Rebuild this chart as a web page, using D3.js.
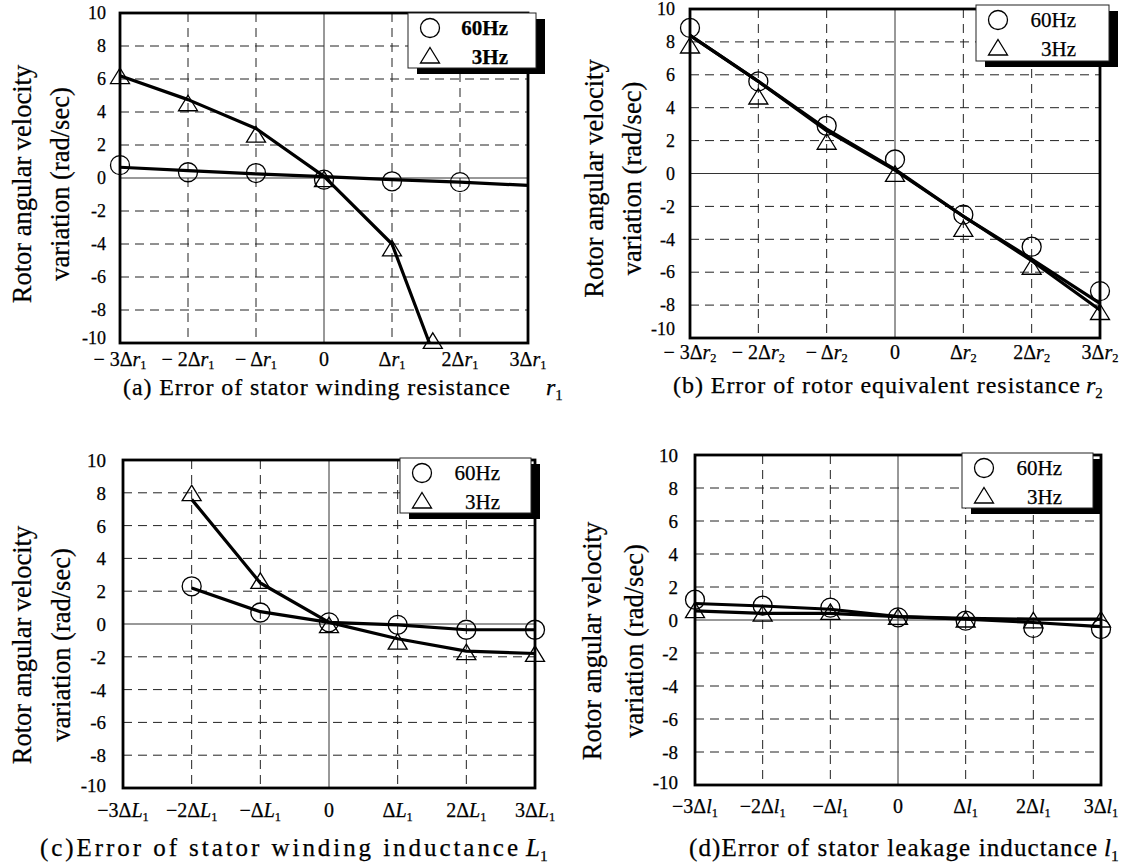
<!DOCTYPE html>
<html><head><meta charset="utf-8">
<script src="https://cdn.jsdelivr.net/npm/d3@7"></script>
<style>
body{margin:0;background:#fff}
svg text{font-family:"Liberation Serif","Times New Roman",serif;fill:#000;stroke:#000;stroke-width:0.25px}
</style>
</head><body>
<svg id="chart" width="1129" height="868"></svg>
<script>
// ---------- shared data ----------
const xTicks = [-3, -2, -1, 0, 1, 2, 3];
const yTicks = [-10, -8, -6, -4, -2, 0, 2, 4, 6, 8, 10];
const yTickLabels = ["-10", "-8", "-6", "-4", "-2", "0", "2", "4", "6", "8", "10"];
const xCoefSpaced = ["\u2212 3\u0394", "\u2212 2\u0394", "\u2212 \u0394", "0", "\u0394", "2\u0394", "3\u0394"];
const xCoefTight = ["\u22123\u0394", "\u22122\u0394", "\u2212\u0394", "0", "\u0394", "2\u0394", "3\u0394"];
const legendLabels = ["60Hz", "3Hz"];
const yLabelLines = ["Rotor angular velocity", "variation (rad/sec)"];

// ---------- (a) stator winding resistance r1 ----------
const aCaption = "(a) Error of stator winding resistance";
const aVar = "r", aSub = "1";
const a60X = [-3, -2, -1, 0, 1, 2];
const a60Y = [0.78, 0.35, 0.3, -0.1, -0.2, -0.25];
const a60LineX = [-3, -2, -1, 0, 1, 2, 3];
const a60LineY = [0.65, 0.45, 0.25, 0.08, -0.1, -0.25, -0.45];
const a3X = [-3, -2, -1, 0, 1, 1.6];
const a3Y = [6.15, 4.5, 2.6, -0.1, -4.3, -9.9];
const a3LineX = [-3, -2, -1, 0, 1, 1.55];
const a3LineY = [6.2, 4.75, 3.0, 0.1, -4.0, -10];

// ---------- (b) rotor equivalent resistance r2 ----------
const bCaption = "(b) Error of rotor equivalent resistance";
const bVar = "r", bSub = "2";
const b60X = [-3, -2, -1, 0, 1, 2, 3];
const b60Y = [8.85, 5.6, 2.9, 0.85, -2.5, -4.45, -7.15];
const b60LineX = [-3, -2, -1, 0, 1, 2, 3];
const b60LineY = [8.4, 5.6, 2.7, 0.25, -2.6, -5.2, -7.9];
const b3X = [-3, -2, -1, 0, 1, 2, 3];
const b3Y = [7.75, 4.65, 1.9, -0.05, -3.4, -5.7, -8.45];
const b3LineX = [-3, -2, -1, 0, 1, 2, 3];
const b3LineY = [8.4, 5.6, 2.6, 0.2, -2.6, -5.3, -8.3];

// ---------- (c) stator winding inductance L1 ----------
const cCaption = "(c)Error of stator winding inductance";
const cVar = "L", cSub = "1";
const c60X = [-2, -1, 0, 1, 2, 3];
const c60Y = [2.3, 0.7, 0.1, -0.05, -0.35, -0.35];
const c60LineX = [-2, -1, 0, 1, 2, 3];
const c60LineY = [2.2, 0.75, 0.1, -0.05, -0.35, -0.35];
const c3X = [-2, -1, 0, 1, 2, 3];
const c3Y = [7.95, 2.6, -0.1, -1.1, -1.75, -1.85];
const c3LineX = [-2, -1, 0, 1, 2, 3];
const c3LineY = [7.6, 2.5, 0.1, -0.9, -1.65, -1.8];

// ---------- (d) stator leakage inductance l1 ----------
const dCaption = "(d)Error of stator leakage inductance";
const dVar = "l", dSub = "1";
const d60X = [-3, -2, -1, 0, 1, 2, 3];
const d60Y = [1.23, 0.87, 0.75, 0.16, -0.04, -0.48, -0.55];
const d60LineX = [-3, -2, -1, 0, 1, 2, 3];
const d60LineY = [1.0, 0.85, 0.65, 0.2, 0.05, -0.15, -0.4];
const d3X = [-3, -2, -1, 0, 1, 2, 3];
const d3Y = [0.57, 0.36, 0.46, 0.16, 0.0, -0.05, 0.0];
const d3LineX = [-3, -2, -1, 0, 1, 2, 3];
const d3LineY = [0.55, 0.4, 0.4, 0.2, 0.1, 0.05, 0.05];

const zip = (xs, ys) => xs.map((x, i) => ({ x, y: ys[i] }));

// ---------- layout (positions only) ----------
const panels = [
  { x0: 120, x1: 528, y0: 13, y1: 343, coef: xCoefSpaced, v: aVar, s: aSub, cap: aCaption,
    capX: 123, capW: 387, capVarX: 546, capY: 395, capSize: 24,
    tickR: 106, tickSize: 18, tickDy: "0.3em", bottomDy: "0.05em", xlY: 366, xlSub: 3, xlSize: 20, ylb: [31, 69], ylOff: 6, legend: [408, 13, 128, 55], legBold: true,
    m60: zip(a60X, a60Y), l60: zip(a60LineX, a60LineY), m3: zip(a3X, a3Y), l3: zip(a3LineX, a3LineY) },
  { x0: 690, x1: 1100, y0: 9, y1: 338, coef: xCoefSpaced, v: bVar, s: bSub, cap: bCaption,
    capX: 673, capW: 407, capVarX: 1086, capY: 393, capSize: 24,
    tickR: 675, tickSize: 18, tickDy: "0.32em", bottomDy: "-0.2em", xlY: 359, xlSub: 3, xlSize: 20, ylb: [603, 641], ylOff: 5, legend: [976, 5, 133, 56], legBold: false,
    m60: zip(b60X, b60Y), l60: zip(b60LineX, b60LineY), m3: zip(b3X, b3Y), l3: zip(b3LineX, b3LineY) },
  { x0: 123, x1: 535, y0: 460, y1: 788, coef: xCoefTight, v: cVar, s: cSub, cap: cCaption,
    capX: 40, capW: 478, capVarX: 526, capY: 856, capSize: 25,
    tickR: 106, tickSize: 19, tickDy: "0.34em", bottomDy: "0.2em", xlY: 817, xlSub: 4, xlSize: 20, ylb: [31, 70], ylOff: 21, legend: [400, 458, 131, 55], legBold: false,
    m60: zip(c60X, c60Y), l60: zip(c60LineX, c60LineY), m3: zip(c3X, c3Y), l3: zip(c3LineX, c3LineY) },
  { x0: 695, x1: 1101, y0: 455, y1: 785, coef: xCoefTight, v: dVar, s: dSub, cap: dCaption,
    capX: 689, capW: 408, capVarX: 1104, capY: 856, capSize: 25,
    tickR: 678, tickSize: 19, tickDy: "0.34em", bottomDy: "0.2em", xlY: 813, xlSub: 4, xlSize: 20, ylb: [601, 643], ylOff: 21, legend: [962, 453, 131, 55], legBold: false,
    m60: zip(d60X, d60Y), l60: zip(d60LineX, d60LineY), m3: zip(d3X, d3Y), l3: zip(d3LineX, d3LineY) }
];

const svg = d3.select("#chart");
const triPath = "M0,-8.5L9.5,7L-9.5,7Z";

panels.forEach(p => {
  const x = d3.scaleLinear().domain([-3, 3]).range([p.x0, p.x1]);
  const y = d3.scaleLinear().domain([-10, 10]).range([p.y1, p.y0]);
  const g = svg.append("g");

  // grid
  const grid = g.append("g");
  grid.selectAll("line.h").data(yTicks.filter(t => t > -10 && t < 10)).join("line")
    .attr("x1", p.x0).attr("x2", p.x1).attr("y1", d => y(d)).attr("y2", d => y(d))
    .attr("stroke", d => d === 0 ? "#333" : "#222")
    .attr("stroke-width", 1)
    .attr("stroke-dasharray", d => d === 0 ? null : "9,6");
  grid.selectAll("line.v").data(xTicks.filter(t => t > -3 && t < 3)).join("line")
    .attr("y1", p.y0).attr("y2", p.y1).attr("x1", d => x(d)).attr("x2", d => x(d))
    .attr("stroke", d => d === 0 ? "#333" : "#222")
    .attr("stroke-width", 1)
    .attr("stroke-dasharray", d => d === 0 ? null : "9,6");

  // y axis tick labels
  const yAxis = d3.axisLeft(y).tickValues(yTicks).tickSize(0)
    .tickFormat((d, i) => yTickLabels[i]);
  const ya = g.append("g").attr("transform", `translate(${p.tickR},0)`).call(yAxis);
  ya.select(".domain").remove();
  ya.selectAll("text").attr("x", 0).attr("dy", d => d === -10 ? p.bottomDy : p.tickDy)
    .style("font-family", '"Liberation Serif","Times New Roman",serif')
    .style("font-size", p.tickSize + "px").attr("fill", "#000");

  // x tick labels
  const xl = g.append("g");
  xTicks.forEach((t, i) => {
    const tx = xl.append("text").attr("x", x(t)).attr("y", p.xlY)
      .attr("text-anchor", "middle").style("font-size", p.xlSize + "px");
    tx.append("tspan").text(p.coef[i]);
    if (t !== 0) {
      tx.append("tspan").attr("font-style", "italic").text(p.v);
      tx.append("tspan").attr("dy", p.xlSub).style("font-size", (p.xlSize * 0.62) + "px").text(p.s);
    }
  });

  // lines
  const line = d3.line().x(d => x(d.x)).y(d => y(d.y));
  g.append("path").datum(p.l60).attr("d", line).attr("fill", "none")
    .attr("stroke", "#000").attr("stroke-width", 3.2).attr("stroke-linejoin", "round");
  g.append("path").datum(p.l3).attr("d", line).attr("fill", "none")
    .attr("stroke", "#000").attr("stroke-width", 3.2).attr("stroke-linejoin", "round");

  // markers
  g.selectAll("circle.m").data(p.m60).join("circle")
    .attr("cx", d => x(d.x)).attr("cy", d => y(d.y)).attr("r", 9.5)
    .attr("fill", "none").attr("stroke", "#000").attr("stroke-width", 1.3);
  g.selectAll("path.t").data(p.m3).join("path")
    .attr("transform", d => `translate(${x(d.x)},${y(d.y)})`)
    .attr("d", triPath).attr("fill", "none").attr("stroke", "#000").attr("stroke-width", 1.3);

  // frame
  g.append("rect").attr("x", p.x0).attr("y", p.y0).attr("width", p.x1 - p.x0).attr("height", p.y1 - p.y0)
    .attr("fill", "none").attr("stroke", "#000").attr("stroke-width", 2.8);

  // legend
  const [lx, ly, lw, lh] = p.legend;
  const lg = g.append("g");
  lg.append("rect").attr("x", lx + 9).attr("y", ly + 6).attr("width", lw).attr("height", lh).attr("fill", "#000");
  lg.append("rect").attr("x", lx).attr("y", ly).attr("width", lw).attr("height", lh)
    .attr("fill", "#fff").attr("stroke", "#222").attr("stroke-width", 1);
  lg.append("circle").attr("cx", lx + 22).attr("cy", ly + 15).attr("r", 9.5)
    .attr("fill", "none").attr("stroke", "#000").attr("stroke-width", 1.3);
  lg.append("path").attr("transform", `translate(${lx + 22},${ly + 43})`).attr("d", triPath)
    .attr("fill", "none").attr("stroke", "#000").attr("stroke-width", 1.3);
  legendLabels.forEach((t, i) => {
    lg.append("text").attr("x", lx + 100).attr("y", ly + 22 + i * 29).attr("text-anchor", "end")
      .style("font-size", "21px").attr("font-weight", p.legBold ? "bold" : "normal").text(t);
  });

  // y axis title
  const yc = (p.y0 + p.y1) / 2 + p.ylOff;
  yLabelLines.forEach((t, i) => {
    g.append("text").attr("transform", `translate(${p.ylb[i]},${yc}) rotate(-90)`)
      .attr("text-anchor", "middle").style("font-size", "26.5px").text(t);
  });

  // caption
  g.append("text").attr("x", p.capX).attr("y", p.capY).style("font-size", p.capSize + "px")
    .attr("textLength", p.capW).attr("lengthAdjust", "spacing").text(p.cap);
  const cv = g.append("text").attr("x", p.capVarX).attr("y", p.capY).style("font-size", p.capSize + "px");
  cv.append("tspan").attr("font-style", "italic").text(p.v);
  cv.append("tspan").attr("dy", 5).style("font-size", (p.capSize * 0.62) + "px").text(p.s);
});
</script>
</body></html>
